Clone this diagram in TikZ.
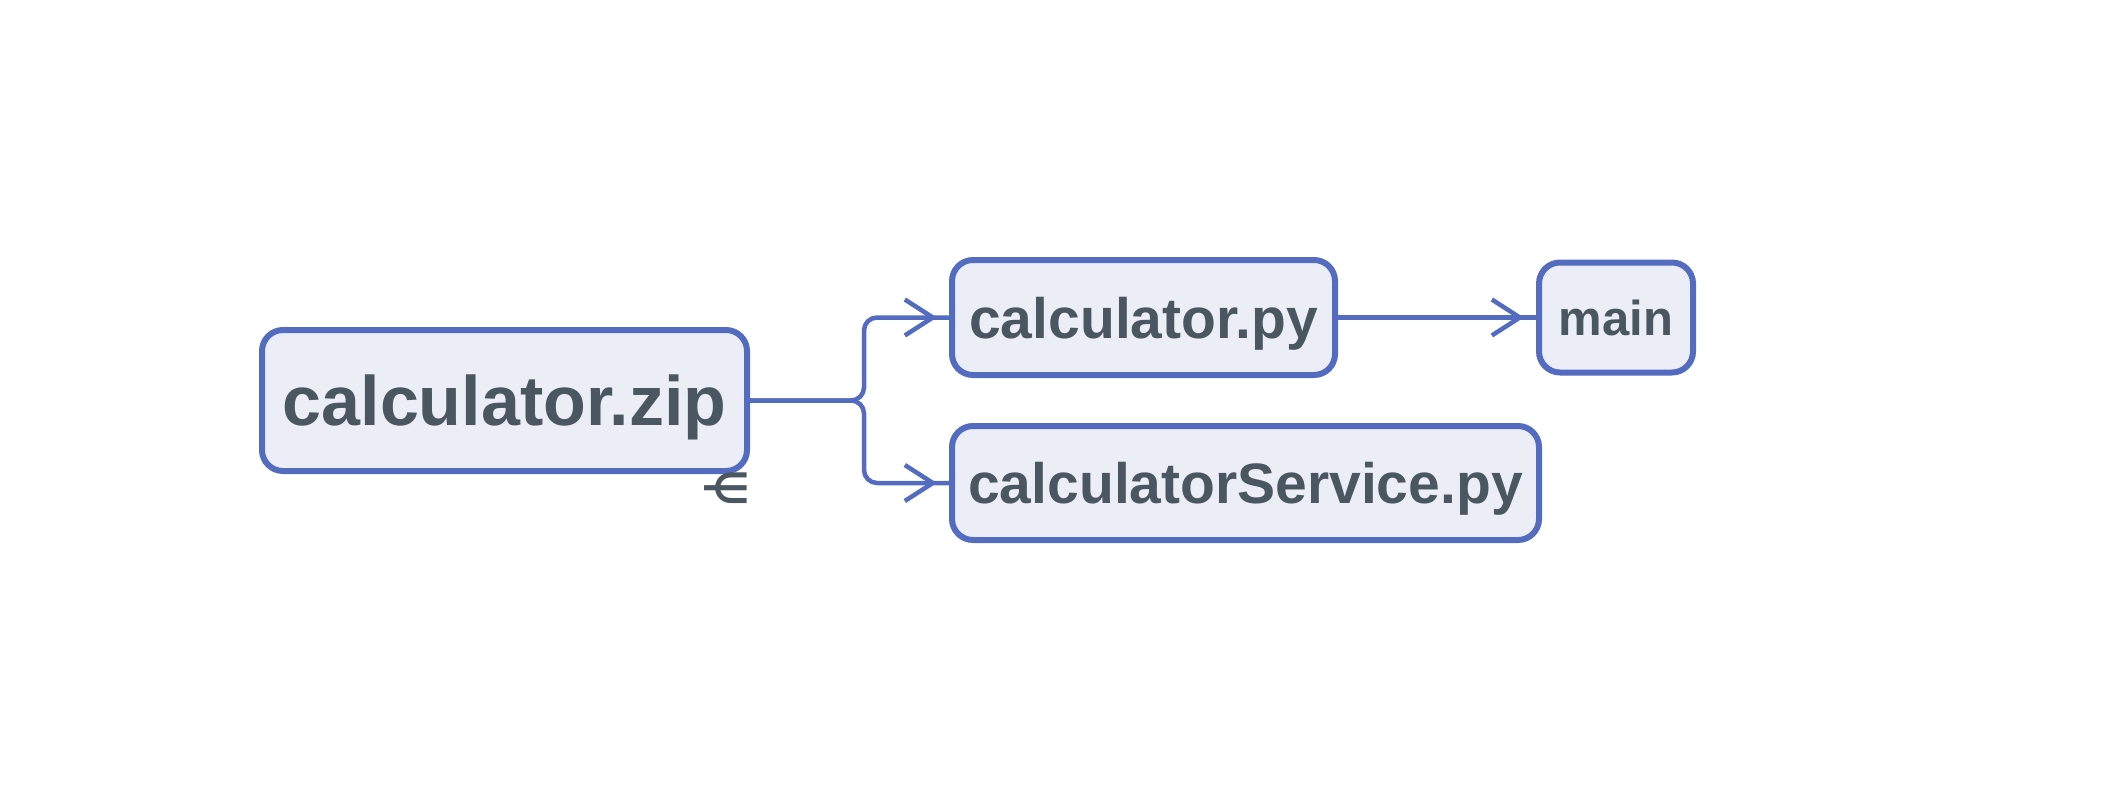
\documentclass[tikz,border=0pt]{standalone}
\usepackage{fontspec}
\setmainfont{Liberation Sans}
\newfontfamily\symfont{DejaVu Sans}
\usetikzlibrary{positioning,arrows.meta,decorations.markings}
\definecolor{boxblue}{HTML}{536CC0}
\definecolor{boxfill}{HTML}{ECEEF7}
\definecolor{boxtext}{HTML}{4A5760}

\begin{document}
\begin{tikzpicture}[x=0.5pt,y=-0.5pt,
    box/.style={draw=boxblue, fill=boxfill, line width=3pt, rounded corners=10.5pt,
      inner sep=0pt, text depth=0pt, text=boxtext},
    bigfont/.style={font=\fontsize{35}{40}\selectfont\bfseries},
    midfont/.style={font=\fontsize{28.5}{32}\selectfont\bfseries},
    flow/.style={draw=boxblue, line width=2.25pt, rounded corners=6.5pt,
      postaction={decorate}, decoration={markings,
        mark=at position -6pt with {\arrow{Straight Barb[length=14pt,width=18pt]}}}}]
  \useasboundingbox (0,0) rectangle (2102,802);
  \node (zip) [box, bigfont, minimum width=242.5pt, minimum height=70.5pt]
    at (504.5,400.5) {calculator.zip};
  \node (py) [box, midfont, minimum width=191.5pt, minimum height=57.5pt,
    right=99.5pt of zip, yshift=41.5pt] {calculator.py};
  \node (svc) [box, midfont, minimum width=293.5pt, minimum height=57pt,
    right=99.5pt of zip, yshift=-41.25pt] {calculatorService.py};
  \node (main) [box, font=\fontsize{24.5}{28}\selectfont\bfseries,
    minimum width=77pt, minimum height=55pt, right=99pt of py] {main};
  \node (elem) [text=boxtext, font=\symfont\bfseries\fontsize{21}{21}\selectfont]
    at (726,488) {⋲};
  % connectors
  \draw[flow] (zip.east) -- ++(57pt,0) |- (py.west);
  \draw[flow] (zip.east) -- ++(57pt,0) |- (svc.west);
  \draw[flow] (py.east) -- (main.west);
\end{tikzpicture}
\end{document}
